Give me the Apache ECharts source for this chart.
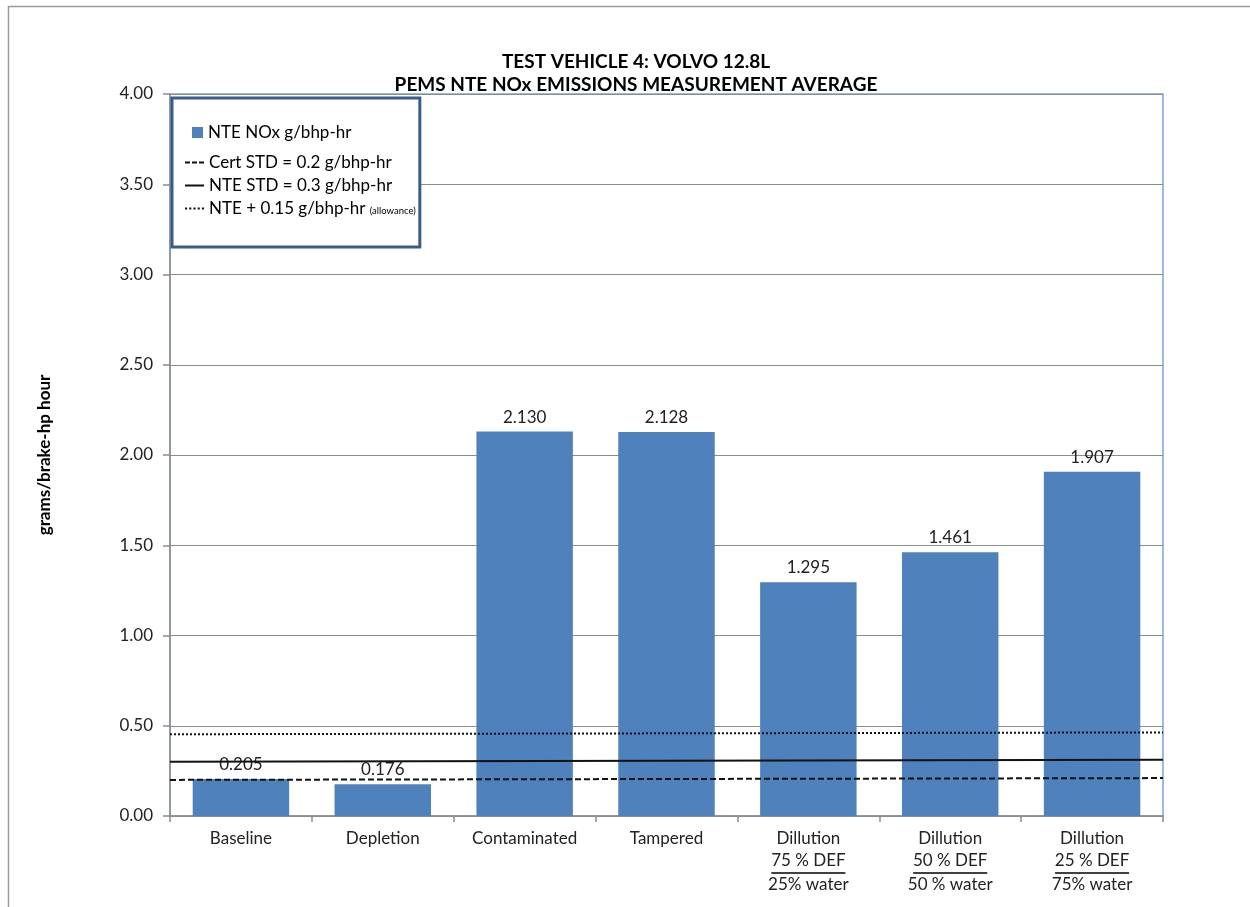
<!DOCTYPE html>
<html>
<head>
<meta charset="utf-8">
<script src="https://cdn.jsdelivr.net/npm/echarts@6/dist/echarts.min.js"></script>
<style>
  html, body { margin: 0; padding: 0; background: #fff; }
  #chart { width: 1250px; height: 907px; }
</style>
</head>
<body>
<div id="chart"></div>
<script>
// ---- data ----
const categories = [
  'Baseline',
  'Depletion',
  'Contaminated',
  'Tampered',
  'Dillution\n75 % DEF\n25% water',
  'Dillution\n50 % DEF\n50 % water',
  'Dillution\n25 % DEF\n75% water'
];
const noxValues = [0.205, 0.176, 2.130, 2.128, 1.295, 1.461, 1.907];
// reference lines: value at left edge, value at right edge of plot
const certStd = [0.200, 0.210];
const nteStd = [0.300, 0.312];
const nteAllowance = [0.453, 0.463];
const yTicks = [0, 0.5, 1.0, 1.5, 2.0, 2.5, 3.0, 3.5, 4.0];

const FONT = 'Lato, "Open Sans", sans-serif';
const FS = 17;
const chart = echarts.init(document.getElementById('chart'), null, { renderer: 'canvas' });

function edgeLine(arr) { return [[0, arr[0]], [1, arr[1]]]; }

const ICON_DASH = 'path://M0,0h5v2h-5zM7,0h5v2h-5zM14,0h5v2h-5z';
const ICON_SOLID = 'path://M0,0h19v2h-19z';
const ICON_DOT = 'path://M0,0h2v2h-2zM4,0h2v2h-2zM8,0h2v2h-2zM12,0h2v2h-2zM16,0h2v2h-2z';

const option = {
  backgroundColor: '#ffffff',
  animation: false,
  textStyle: { fontFamily: FONT },
  title: {
    text: 'TEST VEHICLE 4: VOLVO 12.8L\nPEMS NTE NOx EMISSIONS MEASUREMENT AVERAGE',
    left: 631, top: 45, textAlign: 'center',
    textStyle: { fontFamily: FONT, fontSize: 19, fontWeight: 'bold', color: '#000', lineHeight: 23 }
  },
  graphic: [{
    type: 'rect', silent: true, z: -10,
    shape: { x: 8.5, y: 6.5, width: 1400, height: 1100 },
    style: { fill: 'none', stroke: '#9a9a9a', lineWidth: 1.5 }
  }],
  grid: {
    left: 170, right: 87, top: 94, bottom: 91,
    show: true, borderColor: '#7aa6d9', borderWidth: 1.5, backgroundColor: 'transparent'
  },
  legend: [
    {
      data: [
        { name: 'Cert STD = 0.2 g/bhp-hr', icon: ICON_DASH },
        { name: 'NTE STD = 0.3 g/bhp-hr', icon: ICON_SOLID },
        { name: 'NTE + 0.15 g/bhp-hr (allowance)', icon: ICON_DOT }
      ],
      orient: 'vertical', left: 172, top: 98,
      padding: [56, 4, 30, 13],
      itemGap: 6, itemWidth: 19, itemHeight: 14,
      symbolKeepAspect: true,
      borderColor: '#385D8A', borderWidth: 3, backgroundColor: '#ffffff',
      selectedMode: false, z: 5,
      textStyle: {
        fontFamily: FONT, fontSize: FS, color: '#000',
        rich: { s: { fontFamily: FONT, fontSize: 9.5, color: '#000', padding: [4, 0, 0, 0] }, m: { fontFamily: FONT, fontSize: FS, color: '#000' } }
      },
      formatter: function (name) {
        const i = name.indexOf(' (allowance)');
        if (i >= 0) return '{m|' + name.slice(0, i) + '} {s|(allowance)}';
        return name;
      }
    },
    {
      data: ['NTE NOx g/bhp-hr'],
      orient: 'vertical', left: 192, top: 124,
      padding: 0, itemWidth: 11, itemHeight: 11, icon: 'rect',
      selectedMode: false, z: 6,
      textStyle: { fontFamily: FONT, fontSize: FS, color: '#000' }
    }
  ],
  xAxis: [
    {
      type: 'category', data: categories, gridIndex: 0,
      axisLine: { lineStyle: { color: '#8c8c8c', width: 1.5 } },
      axisTick: { show: true, length: 6, alignWithLabel: false, lineStyle: { color: '#8c8c8c', width: 1.5 } },
      axisLabel: {
        interval: 0, margin: 12, color: '#222', fontFamily: FONT, fontSize: FS,
        formatter: function (v) {
          const parts = v.split('\n');
          if (parts.length === 3) {
            return '{t|' + parts[0] + '}\n{t|' + parts[1] + '}\n{bar| }\n{t|' + parts[2] + '}';
          }
          return '{t|' + v + '}';
        },
        rich: {
          t: { fontFamily: FONT, fontSize: FS, color: '#222', lineHeight: 22 },
          bar: { width: 74, height: 1.5, lineHeight: 2, fontSize: 1, backgroundColor: '#000' }
        }
      },
      splitLine: { show: false }
    },
    {
      type: 'value', min: 0, max: 1, gridIndex: 0, show: false
    }
  ],
  yAxis: {
    type: 'value', min: 0, max: 4, interval: 0.5,
    name: 'grams/brake-hp hour', nameLocation: 'middle', nameGap: 117,
    nameTextStyle: { fontFamily: FONT, fontSize: FS, fontWeight: 'bold', color: '#000' },
    axisLine: { show: true, lineStyle: { color: '#8c8c8c', width: 1.5 } },
    axisTick: { show: true, length: 7, lineStyle: { color: '#8c8c8c', width: 1.5 } },
    axisLabel: {
      margin: 17, color: '#222', fontFamily: FONT, fontSize: FS,
      formatter: function (v) { return yTicks.indexOf(v) >= 0 ? v.toFixed(2) : ''; }
    },
    splitLine: { show: true, lineStyle: { color: '#8c8c8c', width: 1.2 } }
  },
  series: [
    {
      name: 'NTE NOx g/bhp-hr', type: 'bar', data: noxValues,
      xAxisIndex: 0, yAxisIndex: 0,
      barCategoryGap: '32%',
      itemStyle: { color: '#4F81BD' },
      label: {
        show: true, position: 'top', distance: 6, color: '#222', fontFamily: FONT, fontSize: FS,
        formatter: function (p) { return p.value.toFixed(3); }
      },
      z: 2
    },
    {
      name: 'Cert STD = 0.2 g/bhp-hr', type: 'line', data: edgeLine(certStd),
      xAxisIndex: 1, yAxisIndex: 0, symbol: 'none', silent: true, z: 3,
      lineStyle: { color: '#111', width: 2, type: [6, 3] },
      itemStyle: { color: '#111' }
    },
    {
      name: 'NTE STD = 0.3 g/bhp-hr', type: 'line', data: edgeLine(nteStd),
      xAxisIndex: 1, yAxisIndex: 0, symbol: 'none', silent: true, z: 3,
      lineStyle: { color: '#111', width: 2, type: 'solid' },
      itemStyle: { color: '#111' }
    },
    {
      name: 'NTE + 0.15 g/bhp-hr (allowance)', type: 'line', data: edgeLine(nteAllowance),
      xAxisIndex: 1, yAxisIndex: 0, symbol: 'none', silent: true, z: 3,
      lineStyle: { color: '#111', width: 2, type: [2, 2] },
      itemStyle: { color: '#111' }
    }
  ]
};
chart.setOption(option);
</script>
</body>
</html>
